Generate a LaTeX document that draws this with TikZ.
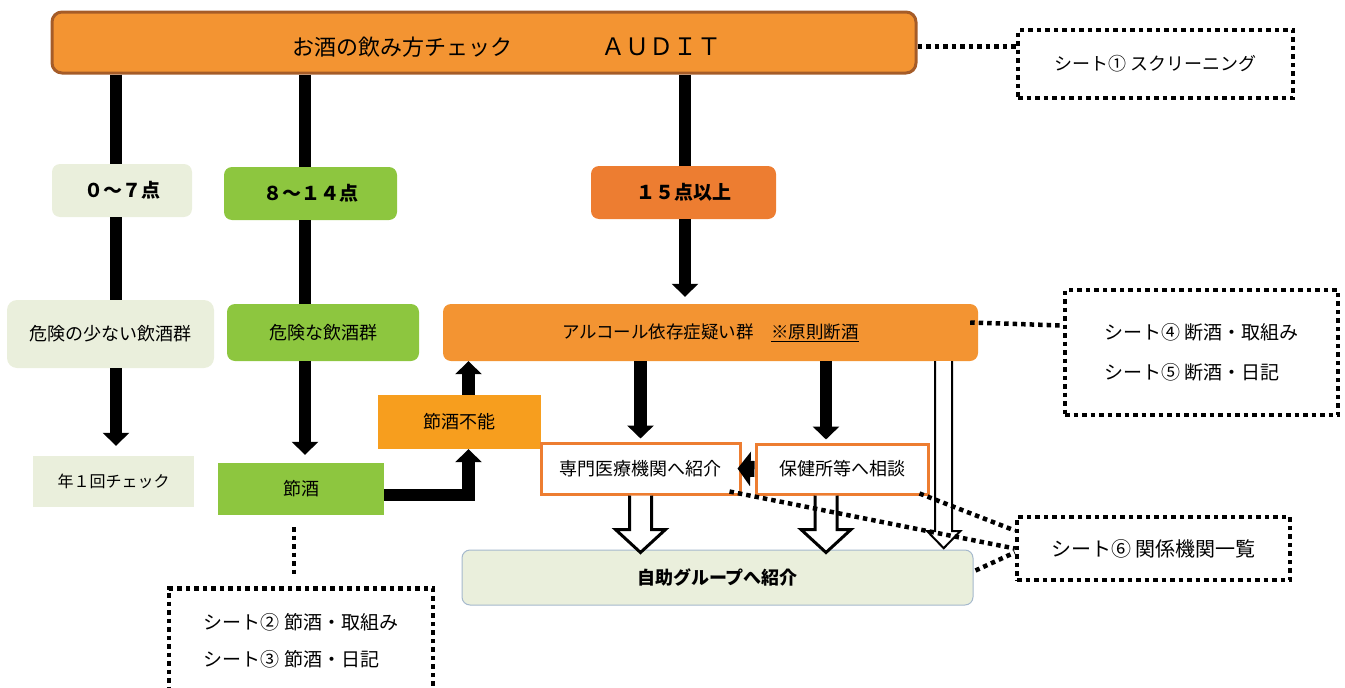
\documentclass[tikz,border=0pt]{standalone}
\usepackage{fontspec}
\setmainfont{Noto Sans CJK JP}
\usetikzlibrary{arrows.meta, calc}

\definecolor{auditorange}{RGB}{243,148,50}
\definecolor{auditbrown}{RGB}{165,92,40}
\definecolor{palegreen}{RGB}{234,239,220}
\definecolor{riskgreen}{RGB}{141,198,63}
\definecolor{darkorange}{RGB}{237,125,49}
\definecolor{funoorange}{RGB}{247,158,30}
\definecolor{jijoborder}{RGB}{165,185,205}

\begin{document}
\begin{tikzpicture}[x=1pt, y=-1pt,
    box/.style={inner sep=0pt, align=center, font=\fontsize{18}{20}\selectfont},
    score/.style={box, rounded corners=8pt, minimum height=53pt, font=\bfseries\fontsize{19}{21}\selectfont},
    fat/.style={line width=12.5pt, -{Triangle[width=26pt,length=13pt]}},
    bar/.style={line width=12.5pt},
    dotline/.style={line width=4.5pt, dash pattern=on 4.5pt off 4pt},
    sheet/.style={draw, dotline, align=left, inner sep=0pt, font=\fontsize{19}{40}\selectfont},
    hollow/.style={draw=black, line width=3pt, fill=white, line join=miter}]
    \useasboundingbox (0,0) rectangle (1345,688);

    % Header
    \node[box, draw=auditbrown, line width=3pt, fill=auditorange, rounded corners=10pt,
          minimum width=864pt, minimum height=61pt] (audit) at (484,42.5) {};
    \node[box, font=\fontsize{22}{24}\selectfont] (audittxt) at (402,47) {お酒の飲み方チェック};
    \node[box, font=\fontsize{24}{26}\selectfont] (audittag) at (661,47) {ＡＵＤＩＴ};
    \node[sheet, minimum width=275pt, minimum height=68pt, font=\fontsize{18}{20}\selectfont]
          (sheetone) at (1155.5,64) {シート① スクリーニング};

    % Columns
    \coordinate (colA) at (116,0);
    \coordinate (colB) at (305,0);
    \coordinate (colC) at (685,0);

    % Score bands
    \node[score, fill=palegreen, minimum width=140pt] (low) at (122,190.5) {０～７点};
    \node[score, fill=riskgreen, minimum width=173pt] (mid) at (310.5,193.5) {８～１４点};
    \node[score, fill=darkorange, minimum width=185pt] (high) at (683.5,192.5) {１５点以上};

    % Groups
    \node[box, fill=palegreen, rounded corners=10pt, minimum width=207pt, minimum height=68pt]
          (lowrisk) at (110.5,334) {危険の少ない飲酒群};
    \node[box, fill=riskgreen, rounded corners=8pt, minimum width=192pt, minimum height=57pt]
          (risk) at (323,332.5) {危険な飲酒群};
    \node[box, fill=auditorange, rounded corners=8pt, minimum width=535pt, minimum height=57pt,
          font=\fontsize{17.5}{20}\selectfont]
          (alc) at (710.5,332.5) {アルコール依存症疑い群　\underline{※原則断酒}};

    % Actions
    \node[box, fill=palegreen, minimum width=161pt, minimum height=51pt, font=\fontsize{16}{18}\selectfont]
          (annual) at (113.5,481.5) {年１回チェック};
    \node[box, fill=riskgreen, minimum width=166pt, minimum height=52pt] (sesshu) at (301,489) {節酒};
    \node[box, fill=funoorange, minimum width=163pt, minimum height=54pt] (funo) at (459.5,422) {節酒不能};
    \node[box, draw=darkorange, line width=3pt, fill=white, minimum width=199pt, minimum height=51pt]
          (senmon) at (640.5,468.5) {専門医療機関へ紹介};
    \node[box, draw=darkorange, line width=3pt, fill=white, minimum width=172pt, minimum height=50pt]
          (hoken) at (842,469) {保健所等へ相談};
    \node[box, draw=jijoborder, line width=1pt, fill=palegreen, rounded corners=8pt,
          minimum width=511pt, minimum height=55pt, font=\bfseries\fontsize{18}{20}\selectfont]
          (jijo) at (717.5,577.5) {自助グループへ紹介};

    % Sheets
    \node[sheet, minimum width=273pt, minimum height=125pt] (sheetfour) at (1201.5,352.5)
          {シート④ 断酒・取組み\\シート⑤ 断酒・日記};
    \node[sheet, minimum width=273pt, minimum height=63pt, font=\fontsize{20}{22}\selectfont]
          (sheetsix) at (1153.5,548.5) {シート⑥ 関係機関一覧};
    \node[sheet, minimum width=264pt, minimum height=105pt, font=\fontsize{19}{37}\selectfont]
          (sheettwo) at (301,641) {シート② 節酒・取組み\\シート③ 節酒・日記};

    % Flow arrows
    \draw[bar] (audit.south -| colA) -- (low.north -| colA);
    \draw[bar] (low.south -| colA) -- (lowrisk.north -| colA);
    \draw[fat, shorten >=10pt] (lowrisk.south -| colA) -- (annual.north -| colA);
    \draw[bar] (audit.south -| colB) -- (mid.north -| colB);
    \draw[bar] (mid.south -| colB) -- (risk.north -| colB);
    \draw[fat, shorten >=8pt] (risk.south -| colB) -- (sesshu.north -| colB);
    \draw[bar] (audit.south -| colC) -- (high.north -| colC);
    \draw[fat, shorten >=7pt] (high.south -| colC) -- (alc.north -| colC);

    \coordinate (funoup) at ($(funo.north)+(9,0)$);
    \coordinate (funodown) at ($(funo.south)+(9,0)$);
    \draw[fat] ($(sesshu.east)+(0,6)$) -| (funodown);
    \draw[fat] (funoup) -- (funoup |- alc.south);

    \coordinate (hokendown) at ($(hoken.south)+(-16,0)$);
    \draw[fat, shorten >=3pt] (alc.south -| senmon.south) -- (senmon.north);
    \draw[fat, shorten >=3pt] (alc.south -| hokendown) -- (hokendown |- hoken.north);
    \draw[line width=16pt, -{Triangle[width=34pt,length=13pt]}] (hoken.west) -- ($(senmon.east)+(-4,0)$);

    % Hollow arrows
    \draw[hollow] ($(senmon.south)+(-11,0)$) -- ++(0,34) -- ++(-14,0) -- ++(25,23)
          -- ++(25,-23) -- ++(-14,0) -- ++(0,-34);
    \draw[hollow] ($(hokendown)+(-11,0)$) -- ++(0,34) -- ++(-14,0) -- ++(25,23)
          -- ++(25,-23) -- ++(-14,0) -- ++(0,-34);
    \coordinate (alcdown) at ($(alc.south east)+(-34.5,0)$);
    \draw[hollow, line width=2pt] ($(alcdown)+(-8.5,0)$) -- ++(0,170) -- ++(-8,0) -- ++(16.5,17)
          -- ++(16.5,-17) -- ++(-8,0) -- ++(0,-170);

    % Sheet links
    \draw[dotline] ($(audit.east)+(0,4)$) -- ($(audit.east -| sheetone.west)+(0,4)$);
    \draw[dotline] ($(alc.east)+(-8,-10)$) -- ($(sheetfour.west)+(0,-27)$);
    \draw[dotline] ($(sesshu.south)+(-7,12)$) -- ($(sesshu.south |- sheettwo.north)+(-7,-10)$);
    \draw[dotline] ($(hoken.south east)+(-10,-2)$) -- ($(sheetsix.west)+(0,-18)$);
    \draw[dotline] ($(senmon.south east)+(-12,-4)$) -- (sheetsix.west);
    \draw[dotline] ($(jijo.east)+(2,-7)$) -- ($(sheetsix.west)+(0,4)$);
\end{tikzpicture}
\end{document}
